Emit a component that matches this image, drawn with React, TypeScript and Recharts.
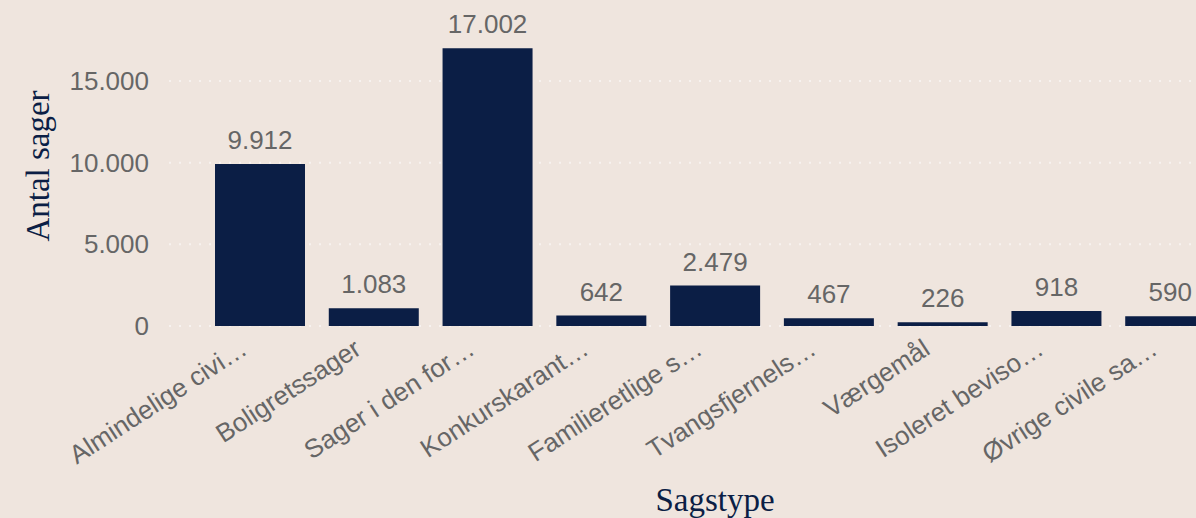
import React from 'react';
import { BarChart, Bar, XAxis, YAxis, CartesianGrid, LabelList } from 'recharts';

const categories = [
  'Almindelige civi…',
  'Boligretssager',
  'Sager i den for…',
  'Konkurskarant…',
  'Familieretlige s…',
  'Tvangsfjernels…',
  'Værgemål',
  'Isoleret beviso…',
  'Øvrige civile sa…',
];
const sager = [9912, 1083, 17002, 642, 2479, 467, 226, 918, 590];
const yTicks = [0, 5000, 10000, 15000];

const data = categories.map((name, i) => ({ name, value: sager[i] }));

const NAVY = '#0b1e45';
const GREY = '#666666';
const BG = '#efe5de';
const SANS = '"Liberation Sans", Arial, sans-serif';
const SERIF = '"Liberation Serif", Georgia, serif';

const PLOT_LEFT = 169;
const PLOT_BOTTOM = 326;

// danish thousands separator
const fmt = (n: number) => String(n).replace(/\B(?=(\d{3})+(?!\d))/g, '.');

const XTick = (props: any) => {
  const { x, payload } = props;
  const tx = x - 11;
  const ty = PLOT_BOTTOM + 27;
  return (
    <text
      x={tx}
      y={ty}
      transform={`rotate(-33 ${tx} ${ty})`}
      textAnchor="end"
      fill={GREY}
      fontSize={26}
      fontFamily={SANS}
    >
      {payload.value}
    </text>
  );
};

const YTick = (props: any) => {
  const { y, payload } = props;
  return (
    <text x={PLOT_LEFT - 20} y={y} dy={9} textAnchor="end" fill={GREY} fontSize={26} fontFamily={SANS}>
      {fmt(payload.value)}
    </text>
  );
};

export default function App() {
  return (
    <div
      style={{
        position: 'absolute',
        left: 0,
        top: 0,
        width: 1196,
        height: 518,
        overflow: 'hidden',
        background: BG,
      }}
    >
      <BarChart
        width={1261}
        height={518}
        data={data}
        margin={{ top: 32, right: 0, left: 0, bottom: 92 }}
      >
        <CartesianGrid
          vertical={false}
          syncWithTicks
          stroke="#f7f2ef"
          strokeWidth={2}
          strokeDasharray="2 8"
        />
        <XAxis
          dataKey="name"
          interval={0}
          axisLine={false}
          tickLine={false}
          height={100}
          padding={{ left: 34, right: 34 }}
          tick={<XTick />}
          label={{
            content: (p: any) => (
              <text
                x={p.viewBox.x + p.viewBox.width / 2}
                y={511}
                textAnchor="middle"
                fill={NAVY}
                fontSize={33}
                fontFamily={SERIF}
              >
                Sagstype
              </text>
            ),
          }}
        />
        <YAxis
          width={PLOT_LEFT}
          domain={[0, 18000]}
          ticks={yTicks}
          axisLine={false}
          tickLine={false}
          tick={<YTick />}
          label={{
            content: () => (
              <text
                x={49}
                y={166}
                transform="rotate(-90 49 166)"
                textAnchor="middle"
                fill={NAVY}
                fontSize={33}
                fontFamily={SERIF}
              >
                Antal sager
              </text>
            ),
          }}
        />
        <Bar dataKey="value" fill={NAVY} barSize={90} isAnimationActive={false}>
          <LabelList
            dataKey="value"
            position="top"
            offset={15}
            formatter={(v: any) => fmt(Number(v))}
            fill={GREY}
            fontSize={26}
            fontFamily={SANS}
          />
        </Bar>
      </BarChart>
    </div>
  );
}
